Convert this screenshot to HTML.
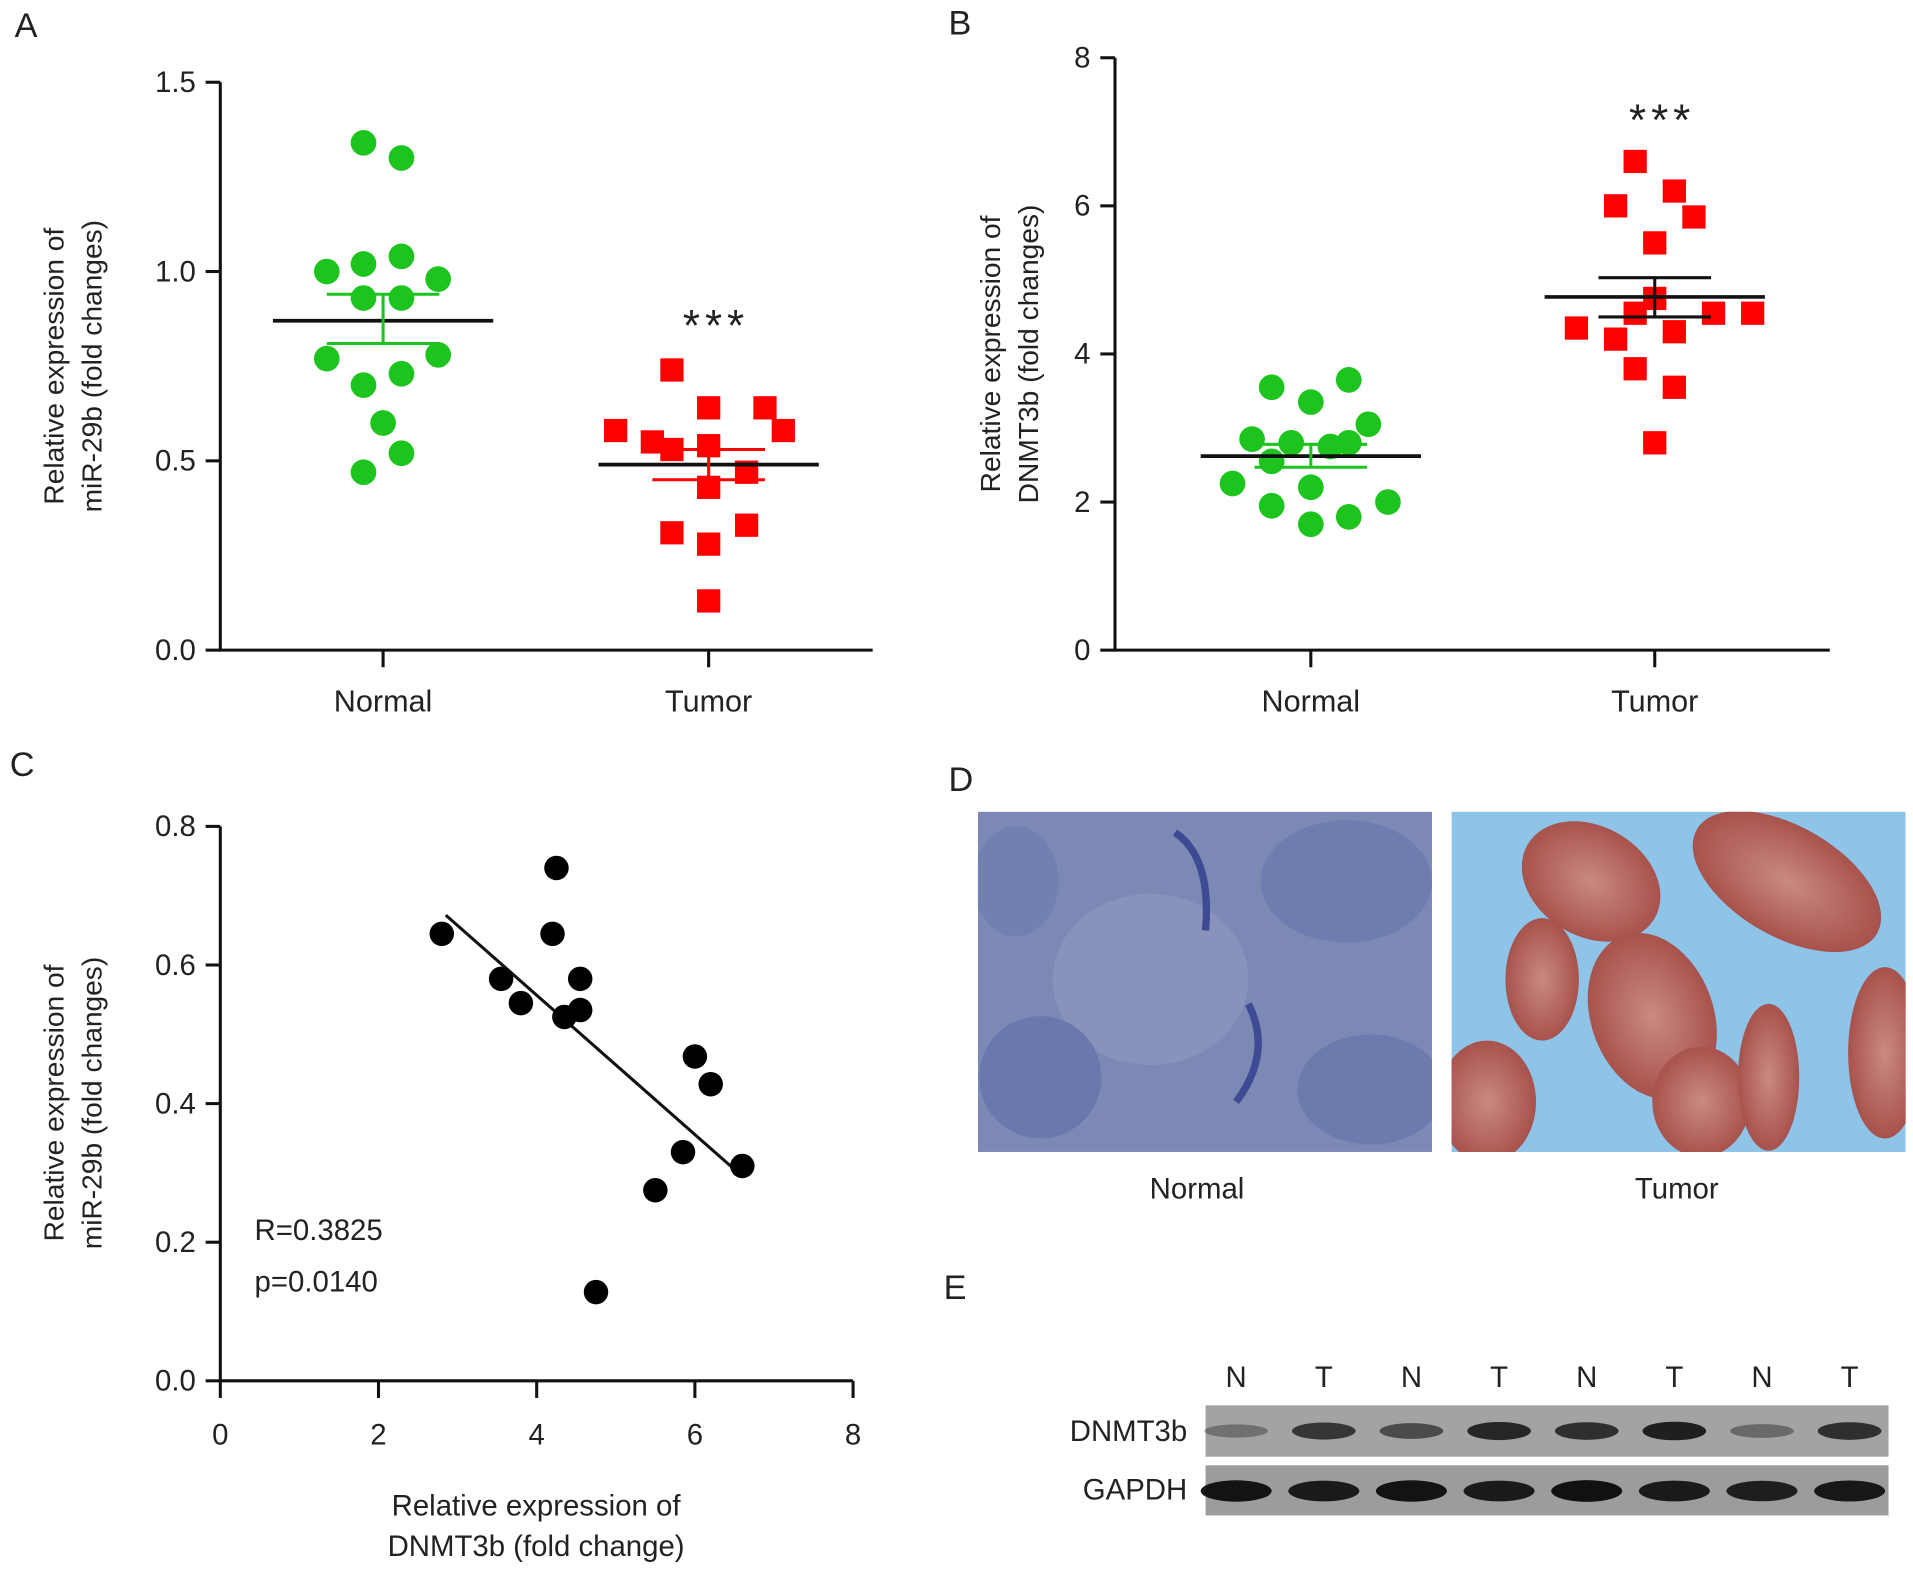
<!DOCTYPE html>
<html><head><meta charset="utf-8"><style>
html,body{margin:0;padding:0;background:#fff;width:1913px;height:1572px;overflow:hidden}
svg{display:block}
text{font-family:"Liberation Sans",Arial,sans-serif;fill:#222}
</style></head><body>
<svg id="fig" width="1913" height="1572" viewBox="0 0 1563 1284" xmlns="http://www.w3.org/2000/svg">
<defs>
<radialGradient id="redb" cx="50%" cy="50%" r="50%"><stop offset="0" stop-color="#c98a82"/><stop offset="1" stop-color="#a8524c"/></radialGradient>
<clipPath id="clipN"><rect x="799" y="663" width="371" height="278"/></clipPath>
<clipPath id="clipT"><rect x="1186" y="663" width="371" height="278"/></clipPath>
</defs>
<g id="pA"></g>
<g id="pB"></g>
<g id="pC"></g>
<g id="pD">
<text x="775" y="646" font-size="28">D</text>
<g clip-path="url(#clipN)">
<rect x="799" y="663" width="371" height="278" fill="#7d89b5"/>
<ellipse cx="940" cy="800" rx="80" ry="70" fill="#8892ba"/>
<ellipse cx="1100" cy="720" rx="70" ry="50" fill="#6e7cb0"/>
<ellipse cx="850" cy="880" rx="50" ry="50" fill="#6a78ad"/>
<ellipse cx="1120" cy="890" rx="60" ry="45" fill="#6d7aae"/>
<ellipse cx="830" cy="720" rx="35" ry="45" fill="#7280b1"/>
<path d="M960 680 Q990 700 985 760 M1020 820 Q1040 860 1010 900" stroke="#3c4b94" stroke-width="6" fill="none"/>
</g>
<g clip-path="url(#clipT)">
<rect x="1186" y="663" width="371" height="278" fill="#8ec4e8"/>
<ellipse cx="1300" cy="720" rx="60" ry="45" fill="url(#redb)" transform="rotate(30 1300 720)"/>
<ellipse cx="1460" cy="720" rx="85" ry="45" fill="url(#redb)" transform="rotate(30 1460 720)"/>
<ellipse cx="1260" cy="800" rx="30" ry="50" fill="url(#redb)"/>
<ellipse cx="1350" cy="830" rx="50" ry="70" fill="url(#redb)" transform="rotate(-20 1350 830)"/>
<ellipse cx="1215" cy="900" rx="40" ry="50" fill="url(#redb)"/>
<ellipse cx="1390" cy="900" rx="40" ry="45" fill="url(#redb)"/>
<ellipse cx="1445" cy="880" rx="25" ry="60" fill="url(#redb)"/>
<ellipse cx="1540" cy="860" rx="30" ry="70" fill="url(#redb)"/>
</g>
<text x="978" y="979" font-size="24" text-anchor="middle">Normal</text>
<text x="1370" y="979" font-size="24" text-anchor="middle">Tumor</text>
</g>
<g id="pE">
<text x="771" y="1061" font-size="28">E</text>
<rect x="985" y="1148" width="558" height="42" fill="#a3a3a3"/>
<rect x="985" y="1197" width="558" height="41" fill="#9c9c9c"/>
<text x="970" y="1177" font-size="24" text-anchor="end">DNMT3b</text>
<text x="970" y="1225" font-size="24" text-anchor="end">GAPDH</text>
</g>
</svg>
<script>
// Panel A data
const catsAB = ["Normal","Tumor"];
const aNormal = [1.34,1.30,1.00,1.02,1.04,0.98,0.93,0.93,0.77,0.78,0.70,0.73,0.60,0.52,0.47];
const aNormalOff = [-16,15,-46,-16,15,45,-16,15,-46,45,-16,15,0,15,-16];
const aTumor = [0.74,0.64,0.64,0.58,0.58,0.55,0.53,0.54,0.47,0.43,0.33,0.31,0.28,0.13];
const aTumorOff = [-30,0,46,-76,61,-46,-30,0,31,0,31,-30,0,0];
const aStats = [[0.87,0.94,0.81],[0.49,0.53,0.45]];
const aTicks = [0,0.5,1.0,1.5];
// Panel B data
const bNormal = [3.55,3.35,3.65,2.85,2.8,2.75,2.8,3.05,2.55,2.25,1.95,2.2,2.0,1.8,1.7];
const bNormalOff = [-32,0,31,-48,-16,16,31,47,-32,-64,-32,0,63,31,0];
const bTumor = [6.6,6.2,6.0,5.85,5.5,4.75,4.55,4.55,4.55,4.35,4.2,4.3,3.8,3.55,2.8];
const bTumorOff = [-16,16,-32,32,0,0,-16,48,80,-64,-32,16,-16,16,0];
const bStats = [[2.62,2.78,2.47],[4.77,5.03,4.50]];
const bTicks = [0,2,4,6,8];
// Panel C data
const cX = [2.8,3.55,3.8,4.2,4.25,4.35,4.55,4.55,6.0,6.2,5.85,5.5,6.6,4.75];
const cY = [0.645,0.58,0.545,0.645,0.74,0.525,0.58,0.535,0.468,0.428,0.33,0.275,0.31,0.128];
const cFit = [[2.85,0.672],[6.55,0.30]];
const cXTicks = [0,2,4,6,8];
const cYTicks = [0.0,0.2,0.4,0.6,0.8];
// Panel E data
const eLanes = ["N","T","N","T","N","T","N","T"];
const eDnmt = [0.35,0.75,0.6,0.85,0.8,0.9,0.4,0.8];
const eGapdh = [0.95,0.9,0.95,0.9,0.97,0.9,0.88,0.92];

const NS="http://www.w3.org/2000/svg";
function mk(p,tag,attrs,txt){const e=document.createElementNS(NS,tag);for(const k in attrs)e.setAttribute(k,attrs[k]);if(txt!==undefined)e.textContent=txt;p.appendChild(e);return e;}

function dotPanel(g,o){
  const y=v=>o.y0-(v-o.vmin)/(o.vmax-o.vmin)*(o.y0-o.y1);
  const L=mk(g,'text',{x:o.lx,y:o.ly,'font-size':28},o.letter);
  
  
  const ax=mk(g,'path',{d:`M${o.ax} ${o.y1}V${o.y0}H${o.xend}`,stroke:'#111','stroke-width':2.5,fill:'none'});
  
  
  o.ticks.forEach(t=>{
    const tk=mk(g,'line',{x1:o.ax-12,x2:o.ax,y1:y(t),y2:y(t),stroke:'#111','stroke-width':2.5});
    
    
    const tl=mk(g,'text',{x:o.ax-20,y:y(t)+8,'font-size':24,'text-anchor':'end'},o.fmt(t));
    
    
  });
  o.cx.forEach((cx,i)=>{
    const tk=mk(g,'line',{x1:cx,x2:cx,y1:o.y0,y2:o.y0+14,stroke:'#111','stroke-width':2.5});
    
    
    const tl=mk(g,'text',{x:cx,y:o.y0+50,'font-size':25,'text-anchor':'middle'},catsAB[i]);
    
    
  });
  const yt=mk(g,'text',{transform:`translate(${o.tx},${(o.y0+o.y1)/2}) rotate(-90)`,'font-size':23,'text-anchor':'middle'});
  
  
  mk(yt,'tspan',{x:0,dy:-4},'Relative expression of');
  mk(yt,'tspan',{x:0,dy:31},o.ylab);
  o.normal.forEach((v,i)=>{
    const c=mk(g,'circle',{cx:o.cx[0]+o.nOff[i],cy:y(v),r:10.5,fill:'#1ec41e'});
    
    
  });
  o.tumor.forEach((v,i)=>{
    const r=mk(g,'rect',{x:o.cx[1]+o.tOff[i]-9.5,y:y(v)-9.5,width:19,height:19,fill:'#f00'});
    
    
  });
  o.stats.forEach((s,i)=>{
    const cx=o.cx[i],col=o.semCol[i];
    const m=mk(g,'line',{x1:cx-90,x2:cx+90,y1:y(s[0]),y2:y(s[0]),stroke:'#111','stroke-width':3});
    
    
    const e=mk(g,'path',{d:`M${cx-46} ${y(s[1])}H${cx+46}M${cx} ${y(s[1])}V${y(s[2])}M${cx-46} ${y(s[2])}H${cx+46}`,stroke:col,'stroke-width':2.5,fill:'none'});
    
    
  });
  const st=mk(g,'text',{x:o.cx[1]+6,y:o.sy,'font-size':36,'text-anchor':'middle','letter-spacing':'4'},'***');
  
  
}
dotPanel(document.getElementById('pA'),{letter:'A',lx:12,ly:30,ax:180,y0:531,y1:67,xend:713,vmin:0,vmax:1.5,ticks:aTicks,fmt:t=>t.toFixed(1),cx:[313,579],tx:56,ylab:'miR-29b (fold changes)',normal:aNormal,nOff:aNormalOff,tumor:aTumor,tOff:aTumorOff,stats:aStats,semCol:['#1ec41e','#f00'],sy:278});
dotPanel(document.getElementById('pB'),{letter:'B',lx:775,ly:28,ax:911,y0:531,y1:47,xend:1495,vmin:0,vmax:8,ticks:bTicks,fmt:t=>String(t),cx:[1071,1352],tx:821,ylab:'DNMT3b (fold changes)',normal:bNormal,nOff:bNormalOff,tumor:bTumor,tOff:bTumorOff,stats:bStats,semCol:['#1ec41e','#111'],sy:110});

// Panel C
(function(){
  const g=document.getElementById('pC');
  const x=v=>180+v/8*(697-180), y=v=>1128-v/0.8*(1128-675);
  const L=mk(g,'text',{x:8,y:634,'font-size':28},'C');
  
  
  const ax=mk(g,'path',{d:`M180 675V1128H697`,stroke:'#111','stroke-width':2.5,fill:'none'});
  
  
  cYTicks.forEach(t=>{
    const tk=mk(g,'line',{x1:168,x2:180,y1:y(t),y2:y(t),stroke:'#111','stroke-width':2.5});
    
    
    const tl=mk(g,'text',{x:160,y:y(t)+8,'font-size':24,'text-anchor':'end'},t.toFixed(1));
    
    
  });
  cXTicks.forEach(t=>{
    const tk=mk(g,'line',{x1:x(t),x2:x(t),y1:1128,y2:1142,stroke:'#111','stroke-width':2.5});
    
    
    const tl=mk(g,'text',{x:x(t),y:1180,'font-size':24,'text-anchor':'middle'},String(t));
    
    
  });
  const yt=mk(g,'text',{transform:`translate(56,901) rotate(-90)`,'font-size':23,'text-anchor':'middle'});
  
  
  mk(yt,'tspan',{x:0,dy:-4},'Relative expression of');
  mk(yt,'tspan',{x:0,dy:31},'miR-29b (fold changes)');
  const xt=mk(g,'text',{x:438,y:1238,'font-size':24,'text-anchor':'middle'});
  
  
  mk(xt,'tspan',{x:438,dy:0},'Relative expression of');
  mk(xt,'tspan',{x:438,dy:33},'DNMT3b (fold change)');
  const f=mk(g,'line',{x1:x(cFit[0][0]),y1:y(cFit[0][1]),x2:x(cFit[1][0]),y2:y(cFit[1][1]),stroke:'#111','stroke-width':2.5});
  
  
  cX.forEach((v,i)=>{
    const c=mk(g,'circle',{cx:x(v),cy:y(cY[i]),r:10,fill:'#000'});
    
    
  });
  const r=mk(g,'text',{x:208,y:1013,'font-size':24},'R=0.3825');
  
  
  const p=mk(g,'text',{x:208,y:1055,'font-size':24},'p=0.0140');
  
  
})();

// Panel E
(function(){
  const g=document.getElementById('pE');
  const lx=i=>1010+i*71.6;
  eLanes.forEach((l,i)=>{
    const t=mk(g,'text',{x:lx(i),y:1133,'font-size':24,'text-anchor':'middle'},l);
    
    
    const a=mk(g,'ellipse',{cx:lx(i),cy:1169,rx:26,ry:4+4*eDnmt[i],fill:'#111','fill-opacity':eDnmt[i]});
    
    
    const b=mk(g,'ellipse',{cx:lx(i),cy:1218,rx:29,ry:4+5*eGapdh[i],fill:'#0c0c0c','fill-opacity':eGapdh[i]});
    
    
  });
})();
</script>
</body></html>
